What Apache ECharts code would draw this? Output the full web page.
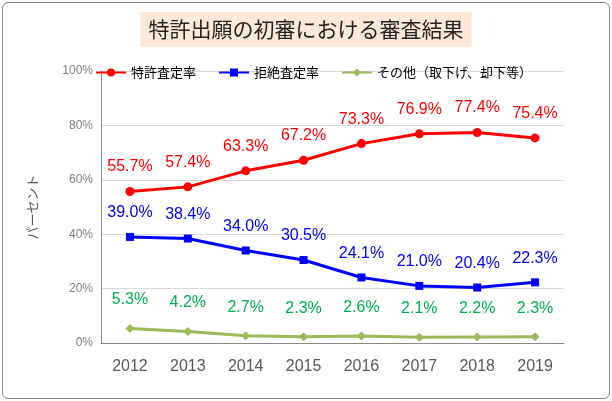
<!DOCTYPE html>
<html><head><meta charset="utf-8">
<script src="https://cdn.jsdelivr.net/npm/echarts@6/dist/echarts.min.js"></script>
<style>
body{margin:0;background:#fff;}
#box{position:absolute;left:2px;top:2px;width:606px;height:395px;border:1px solid #888;border-radius:6px;}
#c{width:612px;height:401px;}
</style></head><body>
<div id="box"></div>
<div id="c"></div>
<script>
var years = ['2012','2013','2014','2015','2016','2017','2018','2019'];
var grantRate = [55.7, 57.4, 63.3, 67.2, 73.3, 76.9, 77.4, 75.4];
var rejectRate = [39.0, 38.4, 34.0, 30.5, 24.1, 21.0, 20.4, 22.3];
var otherRate = [5.3, 4.2, 2.7, 2.3, 2.6, 2.1, 2.2, 2.3];

var font = '"Noto Sans CJK JP", sans-serif';
function lbl(color, off) {
    return {show: true, position: 'top', distance: off, color: color, fontSize: 16, fontFamily: '"Liberation Sans", sans-serif',
        formatter: function (p) { return p.value.toFixed(1) + '%'; }};
}
var chart = echarts.init(document.getElementById('c'));
chart.setOption({
    title: {text: '特許出願の初審における審査結果', left: 'center', top: 12,
        backgroundColor: '#fde9d9', padding: [7, 8],
        textStyle: {fontFamily: font, fontSize: 21, fontWeight: 'normal', color: '#222'}},
    legend: {top: 61, left: 90, itemGap: 22, itemWidth: 30, itemHeight: 10,
        textStyle: {fontFamily: font, fontSize: 13, color: '#000'},
        data: ['特許査定率', '拒絶査定率', 'その他（取下げ、却下等）']},
    grid: {left: 101, right: 48, top: 71, bottom: 58},
    xAxis: {type: 'category', data: years, boundaryGap: true,
        axisLine: {lineStyle: {color: '#888'}}, axisTick: {show: false},
        axisLabel: {fontSize: 16, color: '#595959', fontFamily: '"Liberation Sans", sans-serif', margin: 16}},
    yAxis: {type: 'value', min: 0, max: 100, interval: 20,
        name: 'パーセント', nameLocation: 'middle', nameGap: 62, nameRotate: 90,
        nameTextStyle: {fontFamily: font, fontSize: 13, color: '#595959'},
        axisLabel: {formatter: '{value}%', color: '#7f7f7f', fontSize: 12},
        axisLine: {show: true, lineStyle: {color: '#888'}},
        splitLine: {lineStyle: {color: '#d9d9d9'}}},
    series: [
        {name: '特許査定率', type: 'line', data: grantRate, symbol: 'circle', symbolSize: 9,
            lineStyle: {color: '#ff0000', width: 3}, itemStyle: {color: '#ff0000'}, label: lbl('#ff0000', 12)},
        {name: '拒絶査定率', type: 'line', data: rejectRate, symbol: 'rect', symbolSize: 8,
            lineStyle: {color: '#0000ff', width: 3}, itemStyle: {color: '#0000ff'}, label: lbl('#0000ff', 12)},
        {name: 'その他（取下げ、却下等）', type: 'line', data: otherRate, symbol: 'diamond', symbolSize: 9,
            lineStyle: {color: '#9bbb59', width: 3}, itemStyle: {color: '#9bbb59'}, label: lbl('#00b050', 16)}
    ]
});
</script>
</body></html>
